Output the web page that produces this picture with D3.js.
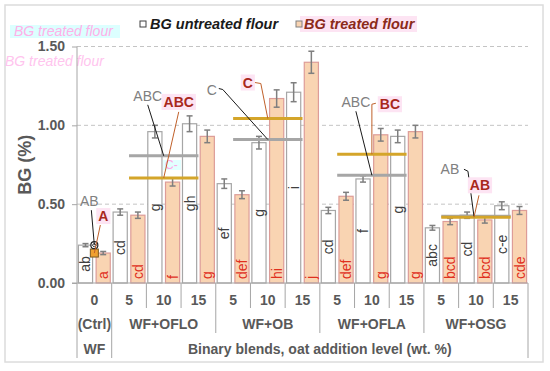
<!DOCTYPE html>
<html>
<head>
<meta charset="utf-8">
<script src="https://cdn.jsdelivr.net/npm/d3@7"></script>
<style>
body { margin: 0; background: #fff; }
svg text { font-family: "Liberation Sans", Arial, sans-serif; }
</style>
</head>
<body>
<svg id="chart" width="550" height="371"></svg>
<script>
// chart values
var levels = ["0", "5", "10", "15", "5", "10", "15", "5", "10", "15", "5", "10", "15"];
var groups = ["(Ctrl)", "WF+OFLO", "WF+OB", "WF+OFLA", "WF+OSG"];
var groupOf = [0, 1, 1, 1, 2, 2, 2, 3, 3, 3, 4, 4, 4];
var untreated = [0.24, 0.45, 0.96, 1.01, 0.63, 0.89, 1.21, 0.46, 0.66, 0.93, 0.35, 0.43, 0.49];
var treated = [0.19, 0.43, 0.64, 0.93, 0.56, 1.17, 1.40, 0.55, 0.94, 0.96, 0.39, 0.40, 0.46];
var untreatedErr = [0.01, 0.02, 0.04, 0.05, 0.03, 0.04, 0.06, 0.02, 0.02, 0.04, 0.015, 0.02, 0.025];
var treatedErr = [0.01, 0.02, 0.025, 0.04, 0.025, 0.055, 0.07, 0.025, 0.04, 0.04, 0.02, 0.02, 0.025];
var untreatedLetters = ["ab", "cd", "g", "gh", "ef", "g", "i", "cd", "f", "g", "abc", "cd", "c-e"];
var treatedLetters = ["a", "cd", "f", "g", "def", "hi", "j", "def", "g", "g", "bcd", "bcd", "cde"];
var groupLettersU = ["AB", "ABC", "C", "ABC", "AB"];
var groupLettersT = ["A", "ABC", "C", "BC", "AB"];
var yTicks = [0, 0.5, 1.0, 1.5];

// where the group letters sit, relative to the mean point
var annoLayout = [
    {ut: [-5, -44], up: [[-3, -35], [0, 0]], tt: [9, -37], tp: [[6, -28], [0, 0]]},
    {ut: [-16, -60], up: [[-16, -51], [0, 0]], tt: [15, -76], tp: [[15, -66], [0, 0]]},
    {ut: [-56, -50], up: [[-49, -51], [-45, -50], [0, 0]], tt: [-20, -36], tp: [[-13, -36], [-7, -35], [0, 0]]},
    {ut: [-16, -73], up: [[-16, -64], [0, 0]], tt: [18, -50], tp: [[4, -51], [0, -50], [0, 0]]},
    {ut: [-26, -47], up: [[-12, -47], [-8, -45], [-2, 0]], tt: [4, -32], tp: [[3, -22], [-2, 0]]}
];

var svg = d3.select("#chart");
var grey = "#595959";

// outer frame
svg.append("rect").attr("x", 5).attr("y", 5).attr("width", 538).attr("height", 357)
    .attr("fill", "#fff").attr("stroke", "#dcdcdc").attr("stroke-width", 1.5);

var y = d3.scaleLinear().domain([0, 1.5]).range([283, 46.5]);
var x = d3.scaleBand().domain(d3.range(levels.length)).range([77, 528]);
var xi = d3.scaleBand().domain(["u", "t"]).range([0, x.bandwidth()]).paddingInner(0.2).paddingOuter(0.08);

// faint leftover texts (pasting artefacts in the original)
svg.append("rect").attr("x", 10).attr("y", 25).attr("width", 110).attr("height", 13).attr("fill", "#dcffff");
svg.append("text").attr("x", 14).attr("y", 36).text("BG treated flour")
    .attr("font-size", 14).attr("font-style", "italic").attr("fill", "#ffb0e8");
svg.append("text").attr("x", 5).attr("y", 66).text("BG treated flour")
    .attr("font-size", 14).attr("font-style", "italic").attr("fill", "#ffc4ee");
svg.append("rect").attr("x", 163).attr("y", 160).attr("width", 18).attr("height", 10).attr("fill", "#e2ffff");
svg.append("text").attr("x", 165).attr("y", 169).text("C-")
    .attr("font-size", 12).attr("fill", "#ffa8e6");

// gridlines
svg.append("g").selectAll("line").data(yTicks.slice(1)).enter().append("line")
    .attr("x1", 77).attr("x2", 528)
    .attr("y1", function(d) { return y(d); }).attr("y2", function(d) { return y(d); })
    .attr("stroke", "#c4c4c4").attr("stroke-dasharray", "4,3");

// y axis
var yAxis = svg.append("g").attr("transform", "translate(77,0)")
    .call(d3.axisLeft(y).tickValues(yTicks).tickFormat(d3.format(".2f")).tickSize(5).tickPadding(7));
yAxis.select(".domain").remove();
yAxis.selectAll("line").attr("stroke", "#a6a6a6");
yAxis.selectAll("text").attr("font-size", 14).attr("font-weight", "bold").attr("fill", grey)
    .style("font-family", "'Liberation Sans', Arial, sans-serif");
svg.append("line").attr("x1", 77).attr("x2", 77).attr("y1", y(1.5)).attr("y2", 358).attr("stroke", "#a6a6a6");

svg.append("text").attr("transform", "translate(25," + y(0.75) + ") rotate(-90)")
    .attr("text-anchor", "middle").attr("dominant-baseline", "central")
    .attr("font-size", 18).attr("font-weight", "bold").attr("fill", grey).text("BG (%)");

// bars
var cols = svg.append("g").selectAll("g").data(d3.range(levels.length)).enter().append("g")
    .attr("transform", function(i) { return "translate(" + x(i) + ",0)"; });

cols.append("rect").attr("x", xi("u")).attr("width", xi.bandwidth())
    .attr("y", function(i) { return y(untreated[i]); })
    .attr("height", function(i) { return y(0) - y(untreated[i]); })
    .attr("fill", "#fff").attr("stroke", "#a6a6a6").attr("stroke-width", 1.2);
cols.append("rect").attr("x", xi("t")).attr("width", xi.bandwidth())
    .attr("y", function(i) { return y(treated[i]); })
    .attr("height", function(i) { return y(0) - y(treated[i]); })
    .attr("fill", "#f9d4b2").attr("stroke", "#dd9c98").attr("stroke-width", 1.2);

// error bars
function errBars(key, vals, errs) {
    var cx = xi(key) + xi.bandwidth() / 2;
    var e = cols.append("g").attr("stroke", "#7f7f7f").attr("stroke-width", 1.5);
    e.append("line").attr("x1", cx).attr("x2", cx)
        .attr("y1", function(i) { return y(vals[i] + errs[i]); })
        .attr("y2", function(i) { return y(vals[i] - errs[i]); });
    [1, -1].forEach(function(s) {
        e.append("line").attr("x1", cx - 3).attr("x2", cx + 3)
            .attr("y1", function(i) { return y(vals[i] + s * errs[i]); })
            .attr("y2", function(i) { return y(vals[i] + s * errs[i]); });
    });
}
errBars("u", untreated, untreatedErr);
errBars("t", treated, treatedErr);

// letters in the bars
cols.append("text")
    .attr("transform", function(i) {
        return "translate(" + (xi("u") + xi.bandwidth() / 2) + "," + y(untreated[i] / 2) + ") rotate(-90)";
    })
    .attr("text-anchor", "middle").attr("dominant-baseline", "central")
    .attr("font-size", 14).attr("fill", "#404040")
    .text(function(i) { return untreatedLetters[i]; });
cols.append("text")
    .attr("transform", function() {
        return "translate(" + (xi("t") + xi.bandwidth() / 2) + "," + (y(0) - 4) + ") rotate(-90)";
    })
    .attr("text-anchor", "start").attr("dominant-baseline", "central")
    .attr("font-size", 14).attr("fill", "#e0301e")
    .text(function(i) { return treatedLetters[i]; });

// group means
function groupCols(k) { return d3.range(levels.length).filter(function(i) { return groupOf[i] === k; }); }
function colCenter(i) { return x(i) + x.bandwidth() / 2; }
var meansU = groups.map(function(g, k) { return d3.mean(groupCols(k), function(i) { return untreated[i]; }); });
var meansT = groups.map(function(g, k) { return d3.mean(groupCols(k), function(i) { return treated[i]; }); });

var meanG = svg.append("g");
groups.forEach(function(g, k) {
    var c = groupCols(k);
    if (c.length < 2) return;
    [[meansU[k], "#a6a6a6"], [meansT[k], "#d4a52a"]].forEach(function(m) {
        meanG.append("line").attr("x1", colCenter(c[0])).attr("x2", colCenter(c[c.length - 1]))
            .attr("y1", y(m[0])).attr("y2", y(m[0])).attr("stroke", m[1]).attr("stroke-width", 3);
    });
});

// control markers
var c0 = colCenter(groupCols(0)[0]);
svg.append("rect").attr("x", c0 - 4).attr("y", y(meansT[0]) - 4).attr("width", 8).attr("height", 8)
    .attr("fill", "#f0a030").attr("stroke", "#7a5a20");
svg.append("circle").attr("cx", c0).attr("cy", y(meansU[0])).attr("r", 3.5)
    .attr("fill", "#fff").attr("stroke", "#222").attr("stroke-width", 1.2);
svg.append("path").attr("d", "M" + (c0 - 2) + "," + y(meansU[0]) + "L" + c0 + "," + (y(meansU[0]) - 2) +
        "L" + (c0 + 2) + "," + y(meansU[0]) + "L" + c0 + "," + (y(meansU[0]) + 2) + "Z")
    .attr("fill", "none").attr("stroke", "#222");

// group letters with leader lines
var line = d3.line();
var annoG = svg.append("g");
groups.forEach(function(g, k) {
    var c = groupCols(k);
    var ax = colCenter(c[Math.floor(c.length / 2)]);
    var ayU = y(meansU[k]), ayT = y(meansT[k]);
    var L = annoLayout[k];
    annoG.append("path").attr("d", line(L.up.map(function(p) { return [ax + p[0], ayU + p[1]]; })))
        .attr("fill", "none").attr("stroke", "#1a1a1a").attr("stroke-width", 1);
    annoG.append("path").attr("d", line(L.tp.map(function(p) { return [ax + p[0], ayT + p[1]]; })))
        .attr("fill", "none").attr("stroke", "#c0602a").attr("stroke-width", 1);
    annoG.append("text").attr("x", ax + L.ut[0]).attr("y", ayU + L.ut[1])
        .attr("text-anchor", "middle").attr("dominant-baseline", "central")
        .attr("font-size", 14).attr("fill", "#808080").text(groupLettersU[k]);
    var t = annoG.append("text").attr("x", ax + L.tt[0]).attr("y", ayT + L.tt[1])
        .attr("text-anchor", "middle").attr("dominant-baseline", "central")
        .attr("font-size", 14).attr("font-weight", "bold").attr("fill", "#a8281c").text(groupLettersT[k]);
    var bb = t.node().getBBox();
    annoG.insert("rect", function() { return t.node(); })
        .attr("x", bb.x - 2).attr("y", bb.y).attr("width", bb.width + 4).attr("height", bb.height)
        .attr("fill", "#fde4f3");
});

// category table under the axis
var tbl = svg.append("g").attr("stroke", "#a6a6a6");
tbl.append("line").attr("x1", 72).attr("x2", 528).attr("y1", y(0)).attr("y2", y(0));
d3.range(1, levels.length + 1).forEach(function(i) {
    var xx = i < levels.length ? x(i) : x.range()[1];
    var bottom = 308;
    if (i === levels.length || groupOf[i] !== groupOf[i - 1]) bottom = 333;
    if (i === 1 || i === levels.length) bottom = 358;
    tbl.append("line").attr("x1", xx).attr("x2", xx).attr("y1", y(0)).attr("y2", bottom);
});

var lab = svg.append("g").attr("font-size", 14).attr("font-weight", "bold").attr("fill", grey)
    .attr("text-anchor", "middle").attr("dominant-baseline", "central");
levels.forEach(function(l, i) {
    lab.append("text").attr("x", colCenter(i)).attr("y", 300).text(l);
});
groups.forEach(function(g, k) {
    var c = groupCols(k);
    lab.append("text").attr("x", (x(c[0]) + x(c[c.length - 1]) + x.bandwidth()) / 2).attr("y", 324).text(g);
});
lab.append("text").attr("x", (x(0) + x(1)) / 2).attr("y", 349).text("WF");
lab.append("text").attr("x", (x(1) + x.range()[1]) / 2).attr("y", 349).text("Binary blends, oat addition level (wt. %)");

// legend
var leg = svg.append("g").attr("font-size", 14.5).attr("font-weight", "bold").attr("font-style", "italic");
leg.append("rect").attr("x", 140).attr("y", 21).attr("width", 6).attr("height", 6)
    .attr("fill", "#fff").attr("stroke", "#404040");
leg.append("text").attr("x", 150).attr("y", 29).attr("fill", "#1a1a1a").text("BG untreated flour");
leg.append("rect").attr("x", 300).attr("y", 16).attr("width", 117).attr("height", 16).attr("fill", "#fde4f3");
leg.append("rect").attr("x", 296).attr("y", 21).attr("width", 6).attr("height", 6)
    .attr("fill", "#f9d4b2").attr("stroke", "#808080");
leg.append("text").attr("x", 304).attr("y", 29).attr("fill", "#8b2a1a").text("BG treated flour");
</script>
</body>
</html>
